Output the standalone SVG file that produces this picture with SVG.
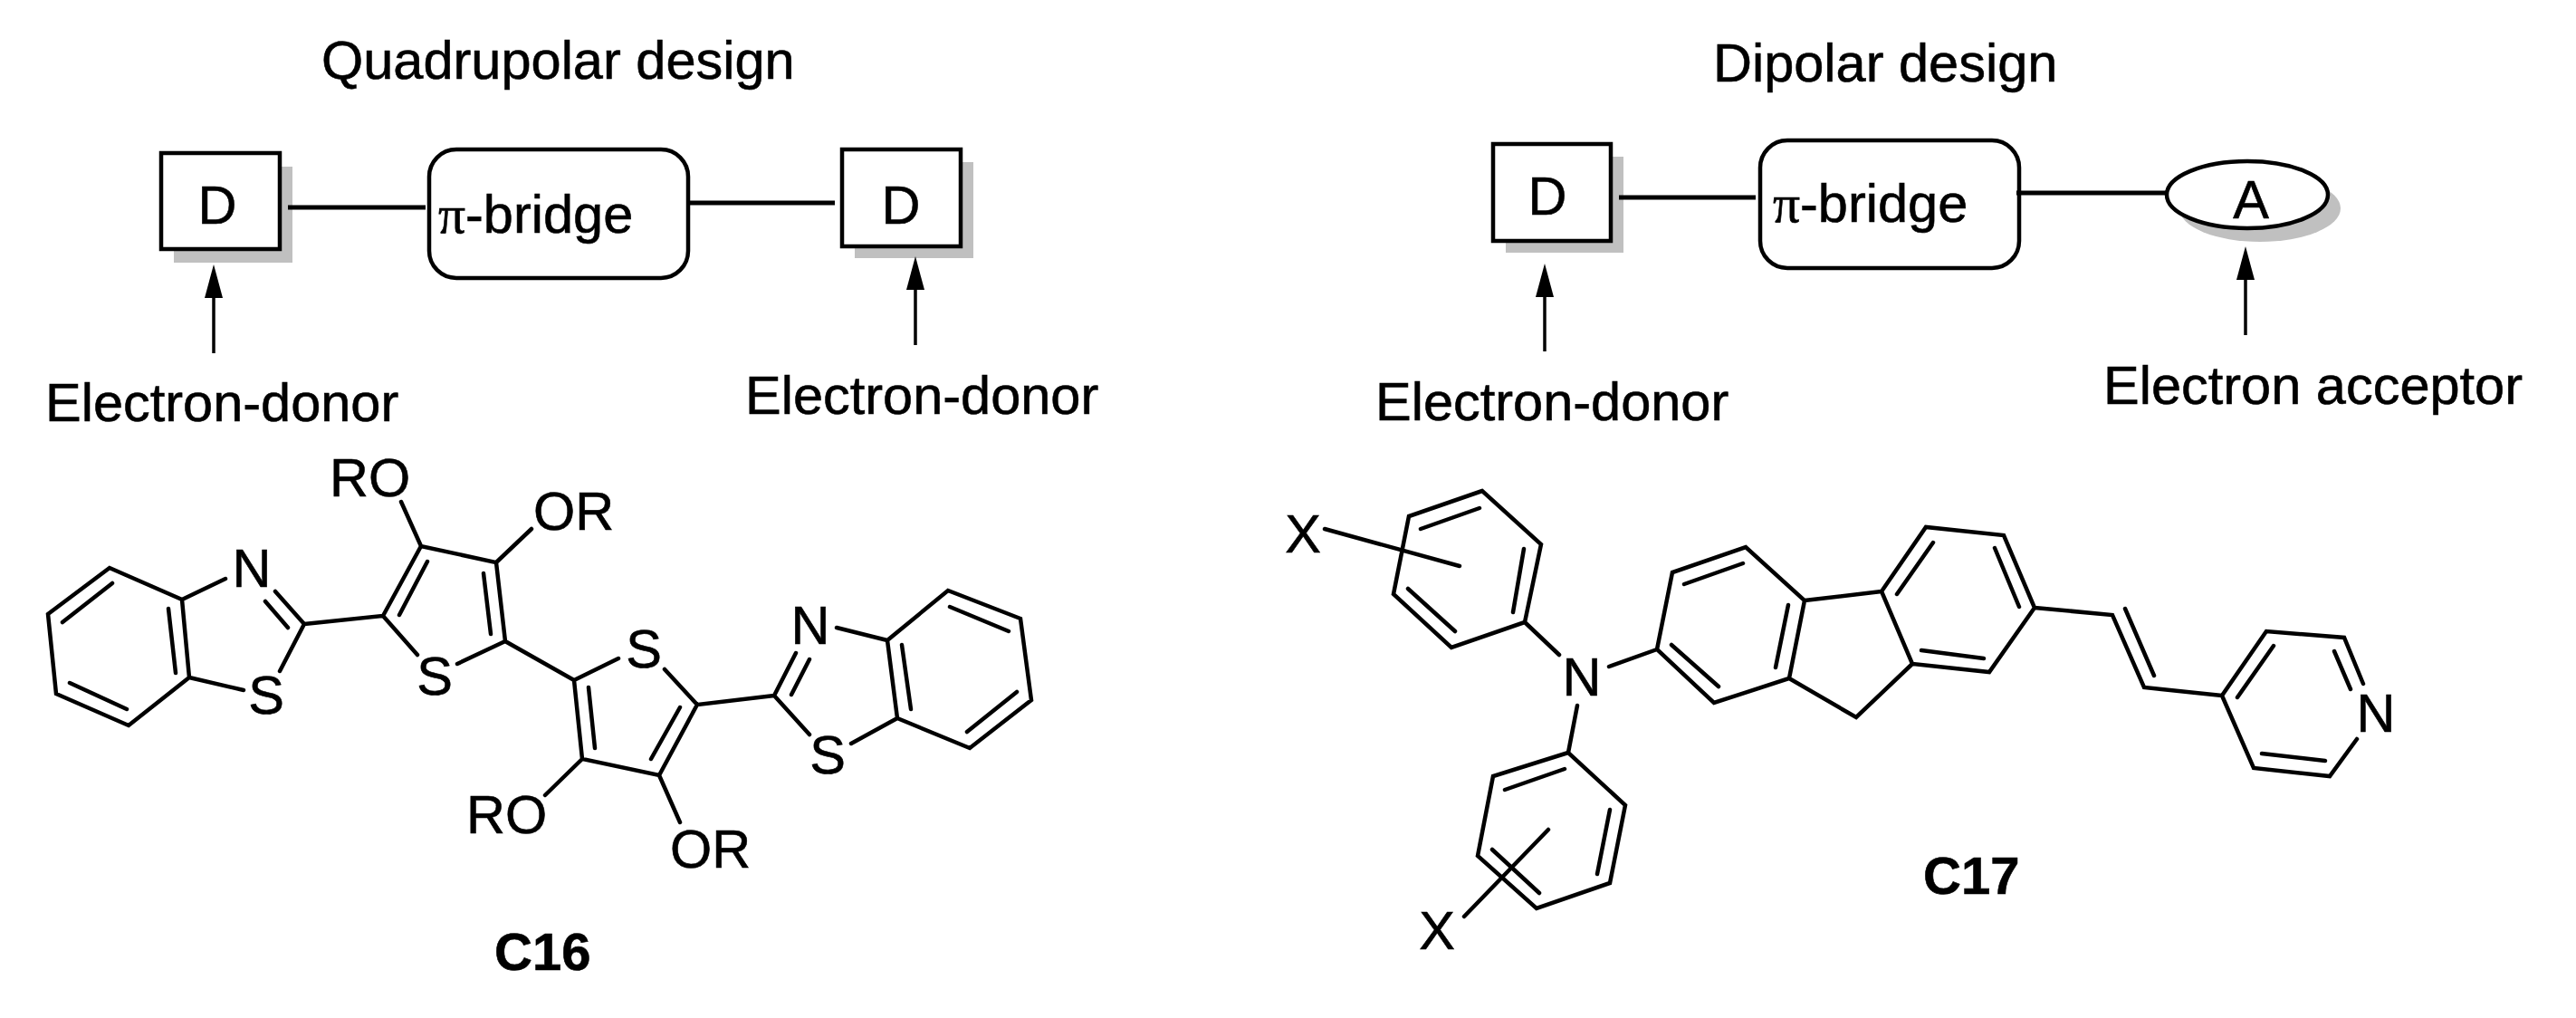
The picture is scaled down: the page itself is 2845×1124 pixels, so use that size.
<svg xmlns="http://www.w3.org/2000/svg" width="2845" height="1124" viewBox="0 0 2845 1124">
<defs>
<marker id="head" markerUnits="userSpaceOnUse" markerWidth="38" markerHeight="22" refX="0" refY="11" orient="auto"><polygon points="0,1 37,11 0,21" fill="#000"/></marker>
</defs>
<style>
text{font-family:"Liberation Sans",Arial,sans-serif;font-size:59.5px;fill:#000;stroke:#000;stroke-width:.6}
.c{text-anchor:middle}
.b{font-weight:bold;font-size:58px}
.pi{font-family:"Liberation Serif","Times New Roman",serif}
.sh{fill:#c0c0c0}
.bx{fill:#fff;stroke:#000;stroke-width:4.5}
.ln{fill:none;stroke:#000;stroke-width:5}
.ar{fill:none;stroke:#000;stroke-width:3.5;marker-end:url(#head)}
.bond{fill:none;stroke:#000;stroke-width:4.5;stroke-linecap:round;stroke-linejoin:miter}
</style>
<rect width="2845" height="1124" fill="#fff"/>
<text id="title-quadrupolar" x="355" y="87">Quadrupolar design</text>
<text id="title-dipolar" x="1892" y="90">Dipolar design</text>
<g id="q-donor-1"><rect class="sh" x="192" y="184" width="131" height="106"/><rect class="bx" x="178" y="169" width="131" height="106"/><text class="c" x="240" y="247">D</text></g>
<g id="q-bridge"><rect class="bx" x="474" y="165" width="286" height="142" rx="30"/><text x="484" y="257"><tspan class="pi">π</tspan>-bridge</text></g>
<g id="q-donor-2"><rect class="sh" x="944" y="179" width="131" height="106"/><rect class="bx" x="930" y="165" width="131" height="107"/><text class="c" x="995" y="247">D</text></g>
<text id="q-label-1" x="50" y="465">Electron-donor</text>
<text id="q-label-2" x="823" y="457">Electron-donor</text>
<g id="d-donor"><rect class="sh" x="1663" y="173" width="130" height="106"/><rect class="bx" x="1649" y="159" width="130" height="107"/><text class="c" x="1709" y="237">D</text></g>
<g id="d-bridge"><rect class="bx" x="1944" y="155" width="286" height="141" rx="30"/><text x="1958" y="245"><tspan class="pi">π</tspan>-bridge</text></g>
<g id="d-acceptor"><ellipse class="sh" cx="2496" cy="230" rx="89" ry="37"/><ellipse class="bx" cx="2482" cy="215" rx="89" ry="37"/><text class="c" x="2486" y="241">A</text></g>
<text id="d-label-1" x="1519" y="464">Electron-donor</text>
<text id="d-label-2" x="2323" y="446">Electron acceptor</text>
<g id="connectors">
<path class="ln" d="M318 229H470M759 224H922"/>
<path class="ln" d="M1788 218H1939M2227 213H2393"/>
<path class="ar" d="M236 390V329"/>
<path class="ar" d="M1011 381V320"/>
<path class="ar" d="M1706 388V328"/>
<path class="ar" d="M2480 370V309"/>
</g>
<g id="molecule-c16">
<path class="bond" d="M121 627L53 678L62 766L142 801L209 748L201 662ZM124 644L69 687M77 754L140 783M186 672L194 743M201 662L249 639M304 653L336 689M293 664L318 693M336 689L309 741M209 748L269 762M336 689L423 680L465 603L548 621L558 708L634 751M441 679L472 620M534 633L542 700M423 680L461 723M558 708L505 733M465 603L443 554M548 621L587 584M634 751L643 838L728 856L770 778L855 768M650 759L657 826M751 781L719 838M634 751L683 727M770 778L734 739M855 768L879 721M874 767L894 728M855 768L894 811M980 707L1047 652L1127 683L1139 773L1071 826L991 793ZM924 693L980 707M940 821L991 793M996 712L1006 783M1049 670L1114 697M1123 764L1068 808M643 838L602 878M728 856L751 908"/>
<text class="c" x="278" y="648">N</text>
<text class="c" x="294" y="788">S</text>
<text class="c" x="480" y="767">S</text>
<text class="c" x="711" y="737">S</text>
<text class="c" x="895" y="711">N</text>
<text class="c" x="914" y="854">S</text>
<text x="364" y="548">RO</text>
<text x="589" y="585">OR</text>
<text x="515" y="920">RO</text>
<text x="740" y="958">OR</text>
<text class="b" x="546" y="1071">C16</text>
</g>
<g id="molecule-c17">
<path class="bond" d="M1637 542L1556 570L1539 656L1603 715L1684 687L1702 601ZM1569 584L1634 561M1683 606L1671 676M1555 650L1607 697M1463 584L1612 625M1684 687L1722 723M1777 736L1830 717M1742 779L1732 831M1732 831L1649 857L1632 945L1697 1003L1778 975L1795 889ZM1728 849L1662 872M1778 894L1764 965M1648 938L1700 986M1710 916L1617 1012M1830 717L1847 632L1928 604L1993 663L1976 749L1893 776ZM1860 645L1925 622M1975 668L1961 737M1846 712L1898 758M1993 663L2078 653M1976 749L2050 792L2112 733M2078 653L2127 582L2213 591L2247 671L2197 742L2112 733ZM2135 599L2095 656M2203 605L2230 670M2122 718L2191 727M2247 671L2333 679L2368 759L2454 768M2347 672L2379 746M2454 768L2503 697L2589 704L2610 755M2603 816L2573 857L2489 848L2454 768M2511 713L2471 770M2578 719L2596 761M2568 840L2498 832"/>
<text class="c" x="1439" y="610">X</text>
<text class="c" x="1587" y="1048">X</text>
<text class="c" x="1747" y="768">N</text>
<text class="c" x="2624" y="808">N</text>
<text class="b" x="2124" y="987">C17</text>
</g>
</svg>
